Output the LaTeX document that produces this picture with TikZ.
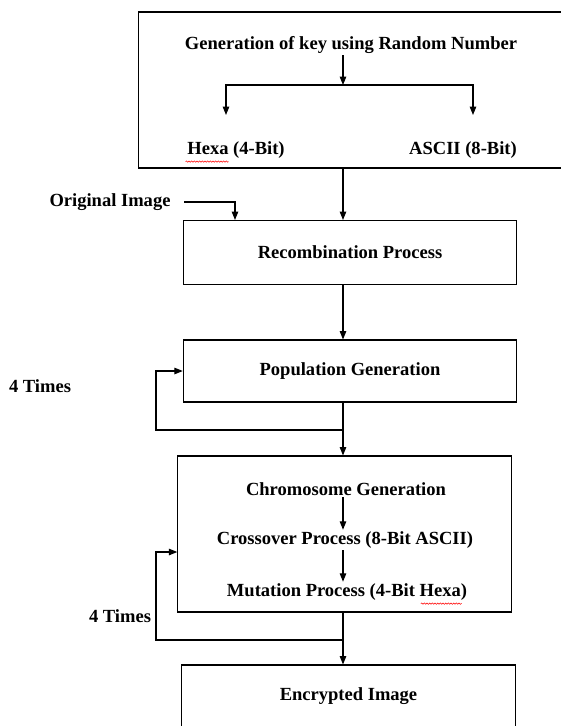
\documentclass[tikz,border=0pt]{standalone}
\usepackage{fontspec}
\setmainfont{Liberation Serif}
\usetikzlibrary{arrows.meta, positioning, decorations.pathmorphing}

\begin{document}
\begin{tikzpicture}[x=0.75pt,y=-0.75pt,font=\bfseries\fontsize{13.9}{16}\selectfont,line width=0.8pt,box/.style={draw,minimum width=250pt,minimum height=48pt,inner sep=0pt},label/.style={inner sep=1pt,yshift=-1.5pt},arrow/.style={-{Triangle[length=2.2mm,width=1.7mm]}},squiggle/.style={red,line width=0.4pt,decorate,decoration={snake,amplitude=0.5pt,segment length=2pt}}]
\useasboundingbox (0,0) rectangle (561,726);
\coordinate (spine) at (343,0);
\node[draw,minimum width=320pt,minimum height=117pt] (keybox) at (351.5,90){};
\node[label] (gen) at (351,43){Generation of key using Random Number};
\node[label] (hexa) at (236,148){Hexa (4-Bit)};
\node[label] (ascii) at (463,148){ASCII (8-Bit)};
\coordinate (split) at (343,85);
\coordinate (hexatip) at (226,115);
\coordinate (asciitip) at (473,115);
\node[label] (orig) at (110,200){Original Image};
\coordinate (origin) at (235,0);
\node[box] (recomb) at (350,252.5){Recombination Process};
\node[box,minimum height=46.5pt] (pop) at (350,371){Population Generation};
\node[box,minimum height=117pt] (chromo) at (344.5,534){};
\node[label] (chromgen) at (346,487){Chromosome Generation};
\node[label] (cross) at (345,538){Crossover Process (8-Bit ASCII)};
\node[label] (mut) at (347,590){Mutation Process (4-Bit Hexa)};
\node[box,minimum height=46.5pt] (enc) at (348.5,696){Encrypted Image};
\node[label] (times1) at (40,384){4 Times};
\node[label] (times2) at (120,614){4 Times};
\coordinate (loop1) at (343,430);
\coordinate (loop2) at (343,640);
\coordinate (back) at (156,0);
\coordinate (in2) at (156,552);
% key generation branch
\draw[arrow] (gen.south -| spine) -- (split);
\draw[arrow] (split) -| (hexatip);
\draw[arrow] (split) -| (asciitip);
\draw[squiggle] ([yshift=-1pt]hexa.south west) -- ++(43,0);
\draw[squiggle] ([yshift=-1pt,xshift=-36pt]mut.south east) -- ++(41,0);
% main flow
\draw[arrow] (keybox.south -| spine) -- (recomb.north -| spine);
\draw[arrow] ([xshift=9pt]orig.east) -| (recomb.north -| origin);
\draw[arrow] (recomb.south -| spine) -- (pop.north -| spine);
\draw (pop.south -| spine) -- (loop1);
\draw[arrow] (loop1) -| (back |- pop.west) -- (pop.west);
\draw[arrow] (loop1) -- (chromo.north -| spine);
\draw[arrow] (chromgen.south -| spine) -- (cross.north -| spine);
\draw[arrow] (cross.south -| spine) -- (mut.north -| spine);
\draw (chromo.south -| spine) -- (loop2);
\draw[arrow] (loop2) -| (in2) -- (in2 -| chromo.west);
\draw[arrow] (loop2) -- (enc.north -| spine);
\end{tikzpicture}
\end{document}
